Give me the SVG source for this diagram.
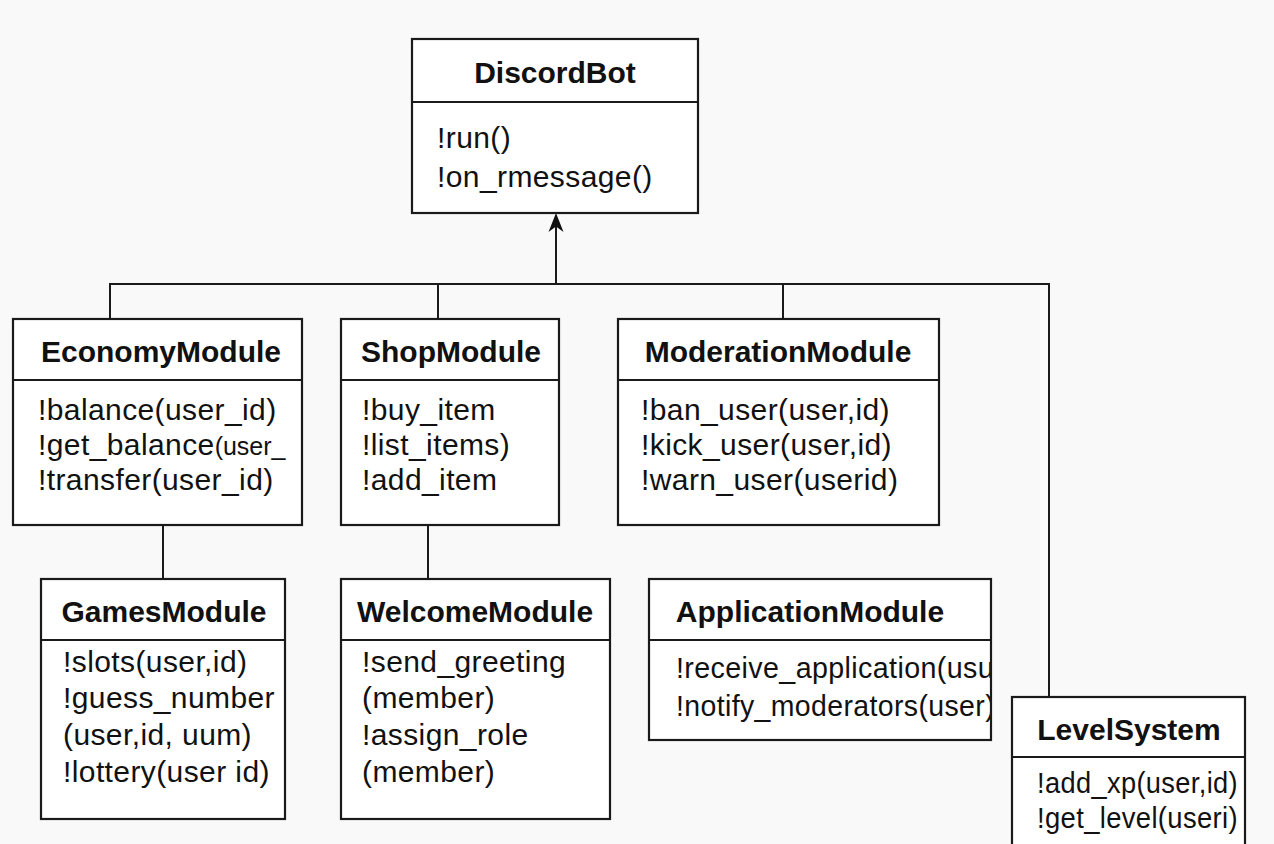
<svg xmlns="http://www.w3.org/2000/svg" width="1274" height="844" viewBox="0 0 1274 844">
<style>
.box{fill:#ffffff;stroke:#1a1a1a;stroke-width:2.2}
.div{stroke:#1a1a1a;stroke-width:2}
.title{font-family:"Liberation Sans",Arial,sans-serif;font-weight:bold;font-size:30px;fill:#111;text-anchor:middle}
.m{font-family:"Liberation Sans",Arial,sans-serif;font-size:30px;fill:#111;letter-spacing:0.4px}
.conn{stroke:#1a1a1a;stroke-width:2;fill:none}
</style>
<defs>
<clipPath id="clipApp"><rect x="649" y="579" width="341" height="161"/></clipPath>
<clipPath id="clipLvl"><rect x="1012" y="697" width="232" height="160"/></clipPath>
<clipPath id="clipEco"><rect x="13" y="319" width="288" height="206"/></clipPath>
</defs>
<rect width="1274" height="844" fill="#f9f9f9"/>

<g id="connectors">
<path class="conn" d="M110,319 V284 H1049 V697"/>
<path class="conn" d="M438,284 V319"/>
<path class="conn" d="M783,284 V319"/>
<path class="conn" d="M556,284 V222"/>
<path d="M556,213 L563.5,232 L556,226.5 L548.5,232 Z" fill="#111"/>
<path class="conn" d="M163,525 V579"/>
<path class="conn" d="M428,525 V579"/>
</g>

<g id="DiscordBot">
<rect class="box" x="412" y="39" width="286" height="174"/>
<line class="div" x1="412" y1="102" x2="698" y2="102"/>
<text class="title" x="555" y="83">DiscordBot</text>
<text class="m" x="437" y="148">!run()</text>
<text class="m" x="437" y="187">!on_rmessage()</text>
</g>

<g id="EconomyModule">
<rect class="box" x="13" y="319" width="289" height="206"/>
<line class="div" x1="13" y1="380" x2="302" y2="380"/>
<text class="title" x="161" y="362">EconomyModule</text>
<g clip-path="url(#clipEco)">
<text class="m" x="38" y="420">!balance(user_id)</text>
<text class="m" x="38" y="455">!get_balance<tspan font-size="25px" letter-spacing="0">(user_</tspan></text>
<text class="m" x="38" y="490">!transfer(user_id)</text>
</g>
</g>

<g id="ShopModule">
<rect class="box" x="341" y="319" width="218" height="206"/>
<line class="div" x1="341" y1="380" x2="559" y2="380"/>
<text class="title" x="451" y="362">ShopModule</text>
<text class="m" x="362" y="420">!buy_item</text>
<text class="m" x="362" y="455">!list_items)</text>
<text class="m" x="362" y="490">!add_item</text>
</g>

<g id="ModerationModule">
<rect class="box" x="618" y="319" width="321" height="206"/>
<line class="div" x1="618" y1="380" x2="939" y2="380"/>
<text class="title" x="778" y="362">ModerationModule</text>
<text class="m" x="641" y="420">!ban_user(user,id)</text>
<text class="m" x="641" y="455">!kick_user(user,id)</text>
<text class="m" x="641" y="490">!warn_user(userid)</text>
</g>

<g id="GamesModule">
<rect class="box" x="41" y="579" width="244" height="240"/>
<line class="div" x1="41" y1="640" x2="285" y2="640"/>
<text class="title" x="164" y="622">GamesModule</text>
<text class="m" x="63" y="672">!slots(user,id)</text>
<text class="m" x="63" y="708">!guess_number</text>
<text class="m" x="63" y="745">(user,id, uum)</text>
<text class="m" x="63" y="782">!lottery(user id)</text>
</g>

<g id="WelcomeModule">
<rect class="box" x="341" y="579" width="269" height="240"/>
<line class="div" x1="341" y1="640" x2="610" y2="640"/>
<text class="title" x="475" y="622">WelcomeModule</text>
<text class="m" x="362" y="672">!send_greeting</text>
<text class="m" x="362" y="708">(member)</text>
<text class="m" x="362" y="745">!assign_role</text>
<text class="m" x="362" y="782">(member)</text>
</g>

<g id="ApplicationModule">
<rect class="box" x="649" y="579" width="342" height="161"/>
<line class="div" x1="649" y1="640" x2="991" y2="640"/>
<text class="title" x="810" y="622">ApplicationModule</text>
<g clip-path="url(#clipApp)">
<text class="m" x="676" y="678" textLength="318" lengthAdjust="spacingAndGlyphs">!receive_application(usu</text>
<text class="m" x="676" y="716" textLength="319" lengthAdjust="spacingAndGlyphs">!notify_moderators(user)</text>
</g>
</g>

<g id="LevelSystem">
<rect class="box" x="1012" y="697" width="233" height="170"/>
<line class="div" x1="1012" y1="757" x2="1245" y2="757"/>
<text class="title" x="1129" y="740">LevelSystem</text>
<g clip-path="url(#clipLvl)">
<text class="m" x="1037" y="793" textLength="201" lengthAdjust="spacingAndGlyphs">!add_xp(user,id)</text>
<text class="m" x="1037" y="828" textLength="201" lengthAdjust="spacingAndGlyphs">!get_level(useri)</text>
</g>
</g>
</svg>
